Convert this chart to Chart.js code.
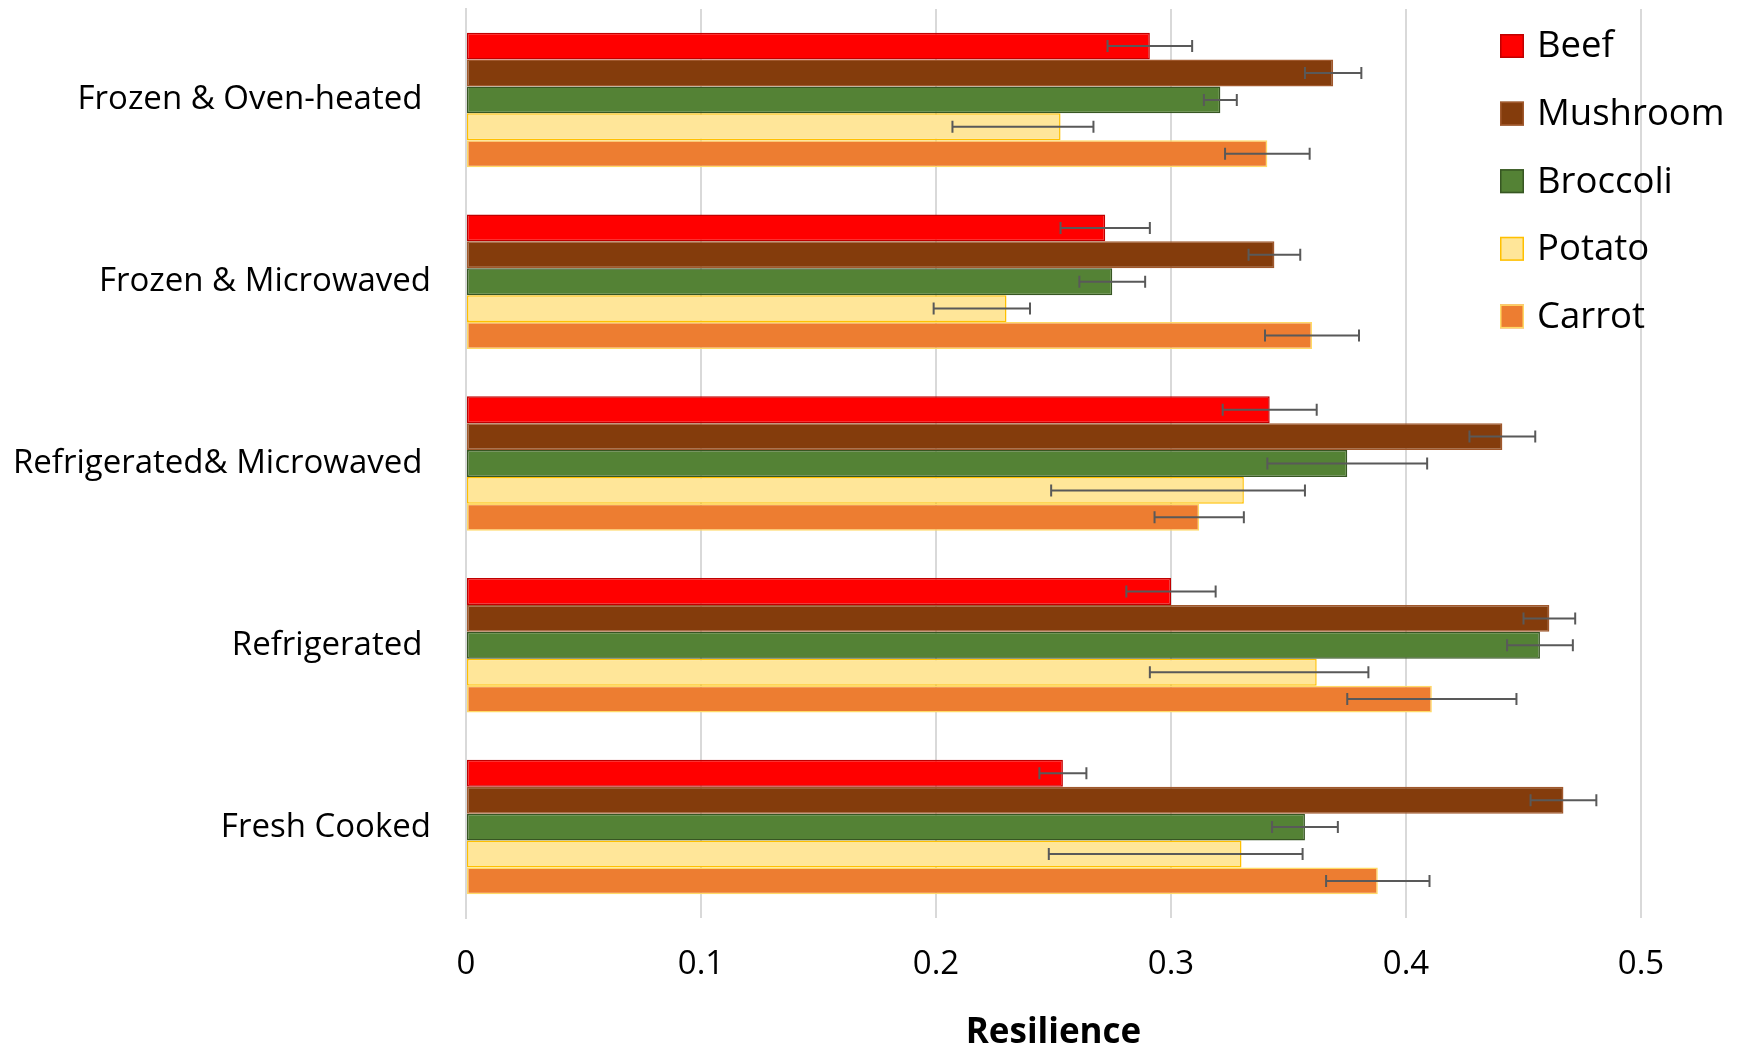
<!DOCTYPE html>
<html>
<head>
<meta charset="utf-8">
<script src="https://cdn.jsdelivr.net/npm/chart.js@4.4.1/dist/chart.umd.min.js"></script>
<style>
  html, body { margin: 0; padding: 0; background: #ffffff; }
  #wrap { width: 1742px; height: 1048px; position: relative; }
</style>
</head>
<body>
<div id="wrap"><canvas id="c" width="1742" height="1048"></canvas></div>
<script>
// ---- Data ----
const categories = ["Frozen & Oven-heated ", "Frozen & Microwaved", "Refrigerated& Microwaved ", "Refrigerated ", "Fresh Cooked"];
const seriesNames = ["Beef", "Mushroom", "Broccoli", "Potato", "Carrot"];

const beefValues = [0.291, 0.272, 0.342, 0.300, 0.254];
const beefErrMinus = [0.018, 0.019, 0.020, 0.019, 0.010];
const beefErrPlus  = [0.018, 0.019, 0.020, 0.019, 0.010];

const mushroomValues = [0.369, 0.344, 0.441, 0.461, 0.467];
const mushroomErrMinus = [0.012, 0.011, 0.014, 0.011, 0.014];
const mushroomErrPlus  = [0.012, 0.011, 0.014, 0.011, 0.014];

const broccoliValues = [0.321, 0.275, 0.375, 0.457, 0.357];
const broccoliErrMinus = [0.007, 0.014, 0.034, 0.014, 0.014];
const broccoliErrPlus  = [0.007, 0.014, 0.034, 0.014, 0.014];

const potatoValues = [0.253, 0.230, 0.331, 0.362, 0.330];
const potatoErrMinus = [0.046, 0.031, 0.082, 0.071, 0.082];
const potatoErrPlus  = [0.014, 0.010, 0.026, 0.022, 0.026];

const carrotValues = [0.341, 0.360, 0.312, 0.411, 0.388];
const carrotErrMinus = [0.018, 0.020, 0.019, 0.036, 0.022];
const carrotErrPlus  = [0.018, 0.020, 0.019, 0.036, 0.022];

const xTickValues = [0, 0.1, 0.2, 0.3, 0.4, 0.5];
const xAxisTitle = "Resilience";

// ---- Styles ----
const FONT = "'Open Sans', 'Liberation Sans', sans-serif";
const fills   = ["#FF0000", "#843C0C", "#548235", "#FFE699", "#ED7D31"];
const borders = ["#C00000", "#A0582C", "#375623", "#FFC000", "#FFD966"];

const valuesList = [beefValues, mushroomValues, broccoliValues, potatoValues, carrotValues];
const errMinusList = [beefErrMinus, mushroomErrMinus, broccoliErrMinus, potatoErrMinus, carrotErrMinus];
const errPlusList = [beefErrPlus, mushroomErrPlus, broccoliErrPlus, potatoErrPlus, carrotErrPlus];

const datasets = seriesNames.map((name, i) => ({
  label: name,
  data: valuesList[i],
  errMinus: errMinusList[i],
  errPlus: errPlusList[i],
  backgroundColor: fills[i],
  borderColor: borders[i],
  borderWidth: 1.5,
  borderSkipped: false,
  categoryPercentage: 0.74,
  barPercentage: 1.0
}));

const errorBarPlugin = {
  id: 'errorBars',
  afterDatasetsDraw(chart) {
    const ctx = chart.ctx;
    const xs = chart.scales.x;
    ctx.save();
    ctx.strokeStyle = '#595959';
    ctx.lineWidth = 2;
    chart.data.datasets.forEach((ds, i) => {
      const meta = chart.getDatasetMeta(i);
      meta.data.forEach((bar, j) => {
        const v = ds.data[j];
        const x1 = xs.getPixelForValue(v - ds.errMinus[j]);
        const x2 = xs.getPixelForValue(v + ds.errPlus[j]);
        const y = bar.y;
        const h = 6;
        ctx.beginPath();
        ctx.moveTo(x1, y); ctx.lineTo(x2, y);
        ctx.moveTo(x1, y - h); ctx.lineTo(x1, y + h);
        ctx.moveTo(x2, y - h); ctx.lineTo(x2, y + h);
        ctx.stroke();
      });
    });
    ctx.restore();
  }
};

const legendPlugin = {
  id: 'innerLegend',
  afterDraw(chart) {
    const ctx = chart.ctx;
    ctx.save();
    const boxX = 1500, box = 24, textX = 1537, startY = 46, step = 67.6;
    ctx.font = "36.5px " + FONT;
    ctx.textBaseline = 'middle';
    ctx.textAlign = 'left';
    chart.data.datasets.forEach((ds, i) => {
      const cy = startY + i * step;
      ctx.fillStyle = ds.backgroundColor;
      ctx.fillRect(boxX, cy - box / 2, box, box);
      ctx.strokeStyle = ds.borderColor;
      ctx.lineWidth = 1.5;
      ctx.strokeRect(boxX + 0.75, cy - box / 2 + 0.75, box - 1.5, box - 1.5);
      ctx.fillStyle = '#000000';
      ctx.fillText(ds.label, textX, cy + 1);
    });
    ctx.restore();
  }
};

new Chart(document.getElementById('c'), {
  type: 'bar',
  data: { labels: categories, datasets: datasets },
  plugins: [errorBarPlugin, legendPlugin],
  options: {
    indexAxis: 'y',
    responsive: false,
    animation: false,
    devicePixelRatio: 1,
    layout: { padding: { left: 0, right: 101, top: 9, bottom: 0 } },
    plugins: { legend: { display: false }, tooltip: { enabled: false } },
    scales: {
      x: {
        type: 'linear',
        min: 0, max: 0.5,
        afterBuildTicks(scale) { scale.ticks = xTickValues.map(v => ({ value: v })); },
        afterFit(scale) { scale.height = 130; scale.paddingLeft = 0; scale.paddingRight = 0; },
        ticks: {
          color: '#000000',
          font: { family: FONT, size: 33 },
          padding: 27,
          callback: (v) => String(v)
        },
        grid: { color: '#D9D9D9', lineWidth: 2, drawTicks: false },
        border: { display: false },
        title: {
          display: true,
          text: xAxisTitle,
          color: '#000000',
          font: { family: FONT, size: 35, weight: 'bold', lineHeight: 1.0 },
          padding: { top: 0, bottom: -3 }
        }
      },
      y: {
        type: 'category',
        afterFit(scale) { scale.width = 466; scale.paddingTop = 0; scale.paddingBottom = 0; },
        ticks: {
          color: '#000000',
          font: { family: FONT, size: 33 },
          padding: 35
        },
        grid: { display: false, drawTicks: false },
        border: { display: true, color: '#D9D9D9', width: 2 }
      }
    }
  }
});
</script>
</body>
</html>
